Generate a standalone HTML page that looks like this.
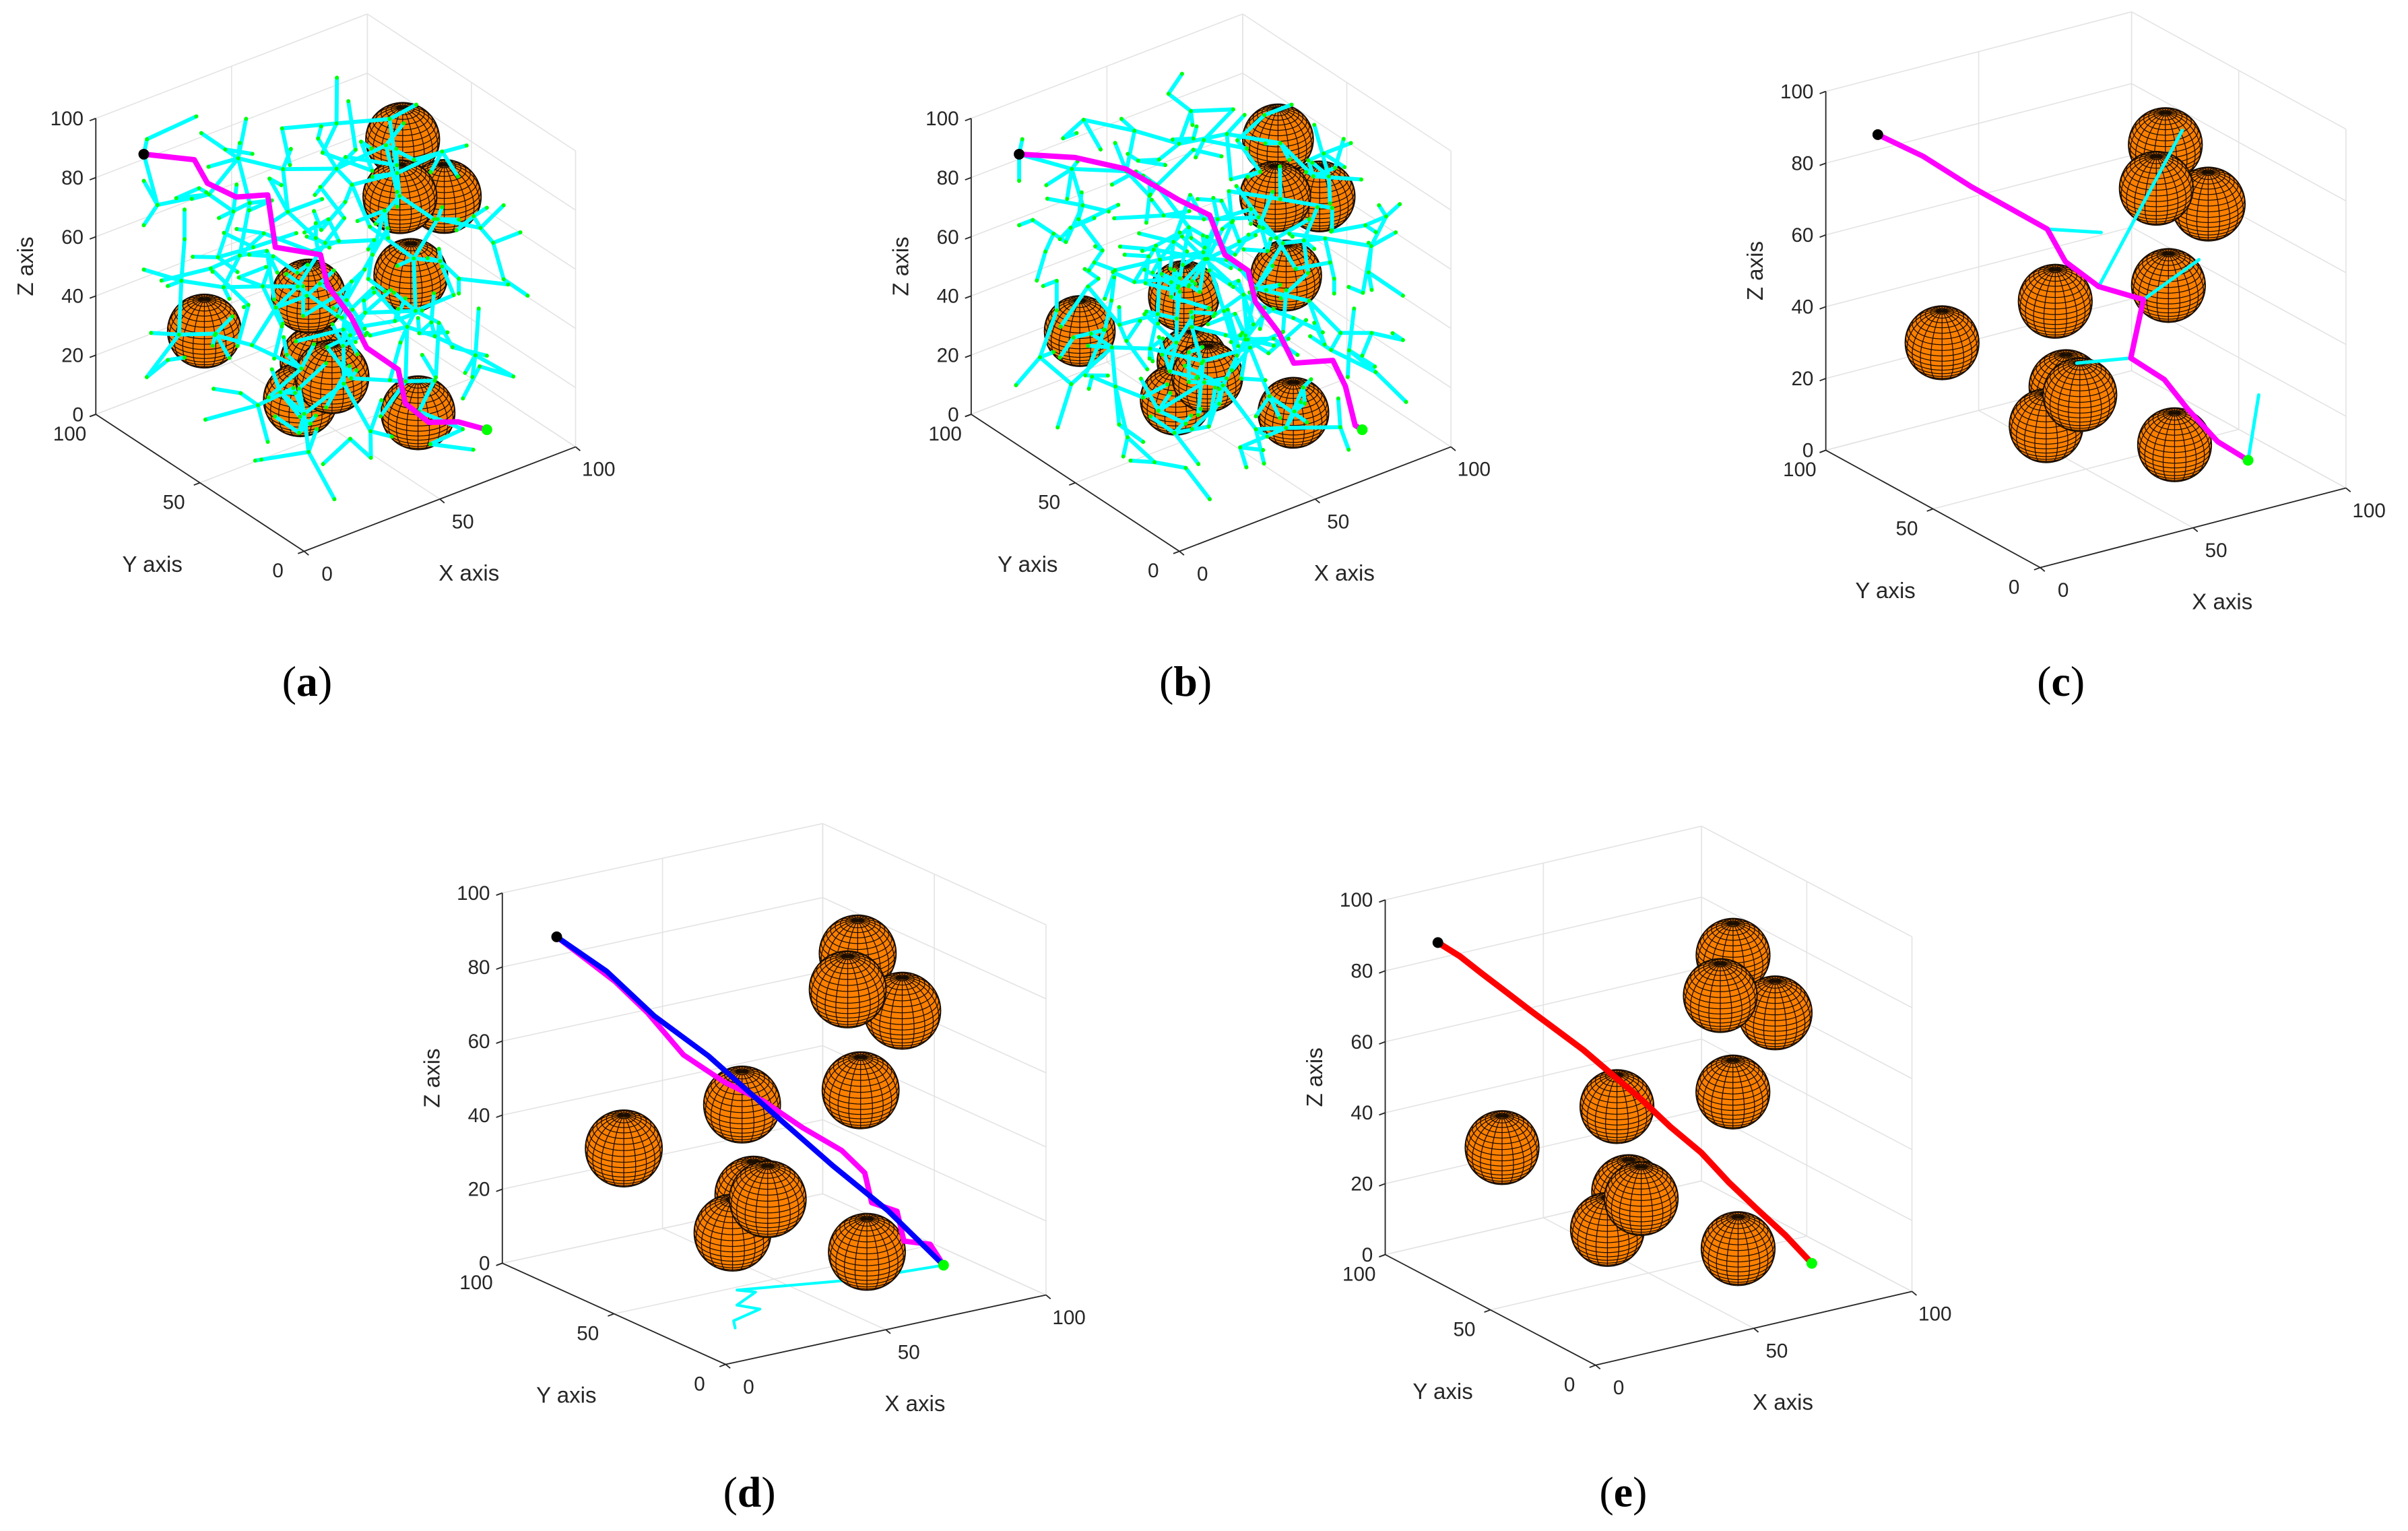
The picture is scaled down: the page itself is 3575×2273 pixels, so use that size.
<!DOCTYPE html>
<html><head><meta charset="utf-8"><style>
html,body{margin:0;padding:0;background:#fff;}
svg{display:block;}
text{font-family:"Liberation Sans",sans-serif;fill:#262626;}
</style></head>
<body>
<svg id="fig" xmlns="http://www.w3.org/2000/svg" width="3575" height="2273" viewBox="0 0 1568 997" preserveAspectRatio="none"></svg>
<script>
// ---------- data ----------
const sphereX=[17,37,41,40,90,66,90,70,47,65];
const sphereY=[70,50,40,50,70,40,50,40,55,30];
const sphereZ=[36,15,26,49,75,78,65,50,22,10];
const startPt=[10,90,89];
const goalPt=[75,10,10];
const pathA=[[10,90,89],[24,84,85],[25,79,79],[31,73,75],[38,67,76],[37,62,61],[49,56,57],[47,50,50],[51,44,41],[53,39,32],[60,33,25],[58,27,17],[62,21,12],[69,16,12],[75,10,10]];
const pathB=[[10,90,89],[26,84,85],[40,78,79],[55,72,66],[61,65,62],[62,59,51],[66,53,47],[64,47,40],[68,41,31],[69,35,23],[78,28,24],[78,22,18],[77,16,8],[75,10,10]];
const pathC=[[10,90,89],[20,83,83],[30,75,75],[50,68,61],[51,61,54],[57,54,48],[66,46,45],[57,39,33],[63,32,28],[65,24,22],[70,17,14],[75,10,10]];
const pathD=[[10,90,89],[24,84,76],[30,78,68],[37,72,57],[45,65,50],[53,59,45],[61,53,38],[69,47,32],[72,41,27],[70,35,21],[73,28,20],[71,22,14],[75,16,14],[75,10,10]];
const smoothD=[[10,90,89],[20,82,80],[30,75,68],[40,65,58],[50,52,45],[60,38,32],[68,25,22],[75,10,10]];
const smoothE=[[10,90,89],[15,87,85],[20,84,80],[25,80,75],[30,76,70],[35,71,65],[40,66,60],[45,60,54],[50,54,48],[55,47,41],[60,40,35],[64,33,28],[68,26,22],[72,18,16],[75,10,10]];
const cyanC=[[[57,54,48],[85,55,85]],[[66,46,45],[80,40,55]],[[75,10,10],[82,15,25]],[[57,39,33],[40,40,35]],[[50,68,61],[62,60,60]]];
const cyanD=[[75,10,10],[60,28,4],[37,48,0],[40,44,0],[30,38,0],[33,32,0],[22,28,0],[19,23,0]];
const treeNodes=[[12,80,60],[35,60,85],[70,90,95],[55,20,90],[88,40,80],[20,30,70],[45,75,40],[80,70,55],[10,55,30],[60,45,65],
[30,90,20],[90,15,35],[50,10,25],[25,50,95],[75,55,15],[40,35,50],[65,80,30],[15,15,55],[85,85,20],[5,70,85],
[50,60,75],[30,20,35],[95,60,70],[60,30,10],[20,85,45],[45,50,20],[70,10,60],[35,65,65],[80,25,90],[10,40,10],
[55,85,60],[25,10,85],[90,45,45],[40,90,80],[65,60,45],[15,65,60],[75,35,30],[50,25,80],[30,45,25],[85,70,85],
[5,25,45],[60,95,15],[45,15,55],[95,30,15],[20,60,80],[70,50,90],[35,80,10],[55,40,35],[10,90,65],[80,10,75],
[40,70,55],[65,20,45],[25,35,15],[90,90,50],[50,45,95],[15,80,25],[75,65,70],[35,5,15],[60,70,5],[20,45,50],
[85,50,25],[45,90,35],[30,25,60],[70,85,80],[5,50,70],[55,65,90],[95,80,35],[40,20,5],[65,40,80],[25,75,30],
[80,30,50],[10,10,20],[50,80,45],[35,40,75],[90,65,10],[15,95,90],[60,15,30],[45,55,60],[75,90,65],[30,70,95],
[85,20,65],[20,20,25],[55,30,55],[70,75,20],[40,60,30],[5,85,15],[95,45,85],[65,5,90],[25,90,55],[50,35,40]];
const zTicks=[0,20,40,60,80,100];
const xyTicks=[0,50,100];

// ---------- panel geometry ----------
const panels=[
 {id:'a',O:[198,359],ex:[176.8,-68],ey:[-135.6,-89.2],ez:[0,-192.7],r:24,lx:200,ly:453},
 {id:'b',O:[768,359],ex:[176.8,-68],ey:[-135.6,-89.2],ez:[0,-192.7],r:23,lx:772,ly:453},
 {id:'c',O:[1328.5,369.6],ex:[199.1,-51.8],ey:[-139.6,-76.4],ez:[0,-233.7],r:24,lx:1342,ly:453},
 {id:'d',O:[472.5,888.5],ex:[208.6,-45.2],ey:[-145.4,-65.9],ez:[0,-241.1],r:25,lx:488,ly:981},
 {id:'e',O:[1039,889],ex:[206,-48],ey:[-137,-72],ez:[0,-231],r:24,lx:1057,ly:981}
];
const NS='http://www.w3.org/2000/svg';
const svg=document.getElementById('fig');
function mk(tag,attrs,parent){const e=document.createElementNS(NS,tag);for(const k in attrs)e.setAttribute(k,attrs[k]);(parent||svg).appendChild(e);return e;}
function proj(p,x,y,z){return [p.O[0]+p.ex[0]*x/100+p.ey[0]*y/100+p.ez[0]*z/100, p.O[1]+p.ex[1]*x/100+p.ey[1]*y/100+p.ez[1]*z/100];}
function pts(p,arr){return arr.map(q=>proj(p,q[0],q[1],q[2]).map(v=>v.toFixed(1)).join(',')).join(' ');}

const EL=30*Math.PI/180;
function sphereGridPath(r){
  let d='';
  function addLine(fn,n){let pen=false;for(let i=0;i<=n;i++){const t=i/n;const [px,py,pz]=fn(t);
    const vis=px*Math.cos(EL)+pz*Math.sin(EL)>=-0.02;
    if(vis){const sx=py*r, sy=-(pz*Math.cos(EL)-px*Math.sin(EL))*r;d+=(pen?'L':'M')+sx.toFixed(2)+' '+sy.toFixed(2);pen=true;}else pen=false;}}
  for(let k=-9;k<=9;k++){const f=k*9*Math.PI/180;addLine(t=>{const l=t*2*Math.PI;return [Math.cos(f)*Math.cos(l),Math.cos(f)*Math.sin(l),Math.sin(f)];},72);}
  for(let k=0;k<20;k++){const l=k*18*Math.PI/180;addLine(t=>{const f=-Math.PI/2+t*Math.PI;return [Math.cos(f)*Math.cos(l),Math.cos(f)*Math.sin(l),Math.sin(f)];},48);}
  return d;
}
function drawSpheres(p,g){
  const idx=sphereX.map((_,i)=>i).sort((a,b)=>(sphereX[b]*0.61+sphereY[b]*0.79-sphereZ[b]*0.5)-(sphereX[a]*0.61+sphereY[a]*0.79-sphereZ[a]*0.5));
  const gp=sphereGridPath(p.r);
  idx.forEach(i=>{
    const c=proj(p,sphereX[i],sphereY[i],sphereZ[i]);
    const s=mk('g',{transform:`translate(${c[0].toFixed(1)},${c[1].toFixed(1)})`},g);
    
    
    mk('circle',{cx:0,cy:0,r:p.r,fill:'#ff8000',stroke:'#111',"stroke-width":0.8},s);
    mk('path',{d:gp,fill:'none',stroke:'#1a0d00',"stroke-width":0.55},s);
  });
}
function drawAxes(p,g){
  const grid=mk('g',{stroke:'#e3e3e3',"stroke-width":0.7,fill:'none'},g);
  
  
  const L=(a,b)=>{const A=proj(p,...a),B=proj(p,...b);mk('line',{x1:A[0],y1:A[1],x2:B[0],y2:B[1]},grid);};
  xyTicks.forEach(t=>{L([t,0,0],[t,100,0]);L([0,t,0],[100,t,0]);L([t,100,0],[t,100,100]);L([100,t,0],[100,t,100]);});
  zTicks.forEach(t=>{L([0,100,t],[100,100,t]);L([100,100,t],[100,0,t]);});
  const ax=mk('g',{stroke:'#262626',"stroke-width":0.8},g);
  
  
  const A=(a,b)=>{const P=proj(p,...a),Q=proj(p,...b);mk('line',{x1:P[0],y1:P[1],x2:Q[0],y2:Q[1]},ax);};
  A([0,100,0],[0,100,100]);A([0,0,0],[0,100,0]);A([0,0,0],[100,0,0]);
  zTicks.forEach(t=>{const P=proj(p,0,100,t);mk('line',{x1:P[0]-4,y1:P[1]+1.5,x2:P[0],y2:P[1]},ax);
    const tx=mk('text',{x:P[0]-8,y:P[1]+4.5,"font-size":13,"text-anchor":"end"},g);tx.textContent=t;
    
    });
  xyTicks.forEach(t=>{const P=proj(p,0,t,0);mk('line',{x1:P[0],y1:P[1],x2:P[0]-4,y2:P[1]+1.5},ax);
    const ty=mk('text',{x:P[0]-17,y:P[1]+17,"font-size":13,"text-anchor":"middle"},g);ty.textContent=t;
    
    
    const Q=proj(p,t,0,0);mk('line',{x1:Q[0],y1:Q[1],x2:Q[0]+3,y2:Q[1]+2.5},ax);
    const tx=mk('text',{x:Q[0]+15,y:Q[1]+19,"font-size":13,"text-anchor":"middle"},g);tx.textContent=t;
    
    });
  const zm=proj(p,0,100,50);
  const zt=mk('text',{x:0,y:0,"font-size":14.5,"text-anchor":"middle",transform:`translate(${zm[0]-41},${zm[1]}) rotate(-90)`},g);zt.textContent='Z axis';
  
  
  const ym=proj(p,0,50,0);
  const yt=mk('text',{x:ym[0]-31,y:ym[1]+58,"font-size":14.5,"text-anchor":"middle"},g);yt.textContent='Y axis';
  
  
  const xm=proj(p,50,0,0);
  const xt=mk('text',{x:xm[0]+19,y:xm[1]+53,"font-size":14.5,"text-anchor":"middle"},g);xt.textContent='X axis';
  
  
}
function drawTree(p,g,sets){
  let samples=[];
  sets.forEach(f=>{treeNodes.forEach(n=>samples.push(f(n)));});
  const STEP=16;
  const tree=[startPt.slice()];
  const tg=mk('g',{},g);
  
  
  const dots=[];
  samples.forEach(n=>{
    let best=0,bd=1e9;
    tree.forEach((q,j)=>{const d=(n[0]-q[0])**2+(n[1]-q[1])**2+(n[2]-q[2])**2;if(d<bd){bd=d;best=j;}});
    const q=tree[best];const d=Math.sqrt(bd);if(d<1)return;
    const s=Math.min(1,STEP/d);
    const np=[q[0]+(n[0]-q[0])*s,q[1]+(n[1]-q[1])*s,q[2]+(n[2]-q[2])*s];
    tree.push(np);
    const A=proj(p,...q),B=proj(p,...np);
    const ln=mk('line',{x1:A[0],y1:A[1],x2:B[0],y2:B[1],stroke:'#00ffff',"stroke-width":2.6,"stroke-linecap":"round"},tg);
    
    
    dots.push(B);
  });
  dots.forEach(B=>mk('circle',{cx:B[0],cy:B[1],r:1.3,fill:'#00ff00'},tg));
}
function drawPath(p,g,arr,color,w,name){
  const pl=mk('polyline',{points:pts(p,arr),fill:'none',stroke:color,"stroke-width":w,"stroke-linejoin":"round","stroke-linecap":"round"},g);
  
  
}
function drawEnds(p,g){
  const s=proj(p,...startPt),e=proj(p,...goalPt);
  const a=mk('circle',{cx:s[0],cy:s[1],r:3.5,fill:'#000'},g);
  
  
  const b=mk('circle',{cx:e[0],cy:e[1],r:3.5,fill:'#00ff00'},g);
  
  
}
const id3=n=>n, mx=n=>[100-n[0],n[1],n[2]], myz=n=>[n[0],100-n[1],100-n[2]], mxy=n=>[100-n[0],100-n[1],n[2]], sw=n=>[n[1],n[0],100-n[2]];

panels.forEach(p=>{
  const g=mk('g',{});
  
  
  drawAxes(p,g);
  if(p.id==='d'){drawPath(p,g,cyanD,'#00ffff',1.8,'cyan-branch');}
  drawSpheres(p,g);
  if(p.id==='a'){drawTree(p,g,[id3,mx,myz]);drawPath(p,g,pathA,'#ff00ff',3.5,'found-path');}
  if(p.id==='b'){drawTree(p,g,[mxy,sw,id3,myz]);drawPath(p,g,pathB,'#ff00ff',3.5,'found-path');}
  if(p.id==='c'){cyanC.forEach(s=>drawPath(p,g,s,'#00ffff',2.2,'cyan-branch'));drawPath(p,g,pathC,'#ff00ff',3.5,'found-path');}
  if(p.id==='d'){drawPath(p,g,pathD,'#ff00ff',3.5,'found-path');drawPath(p,g,smoothD,'#0000ff',3.5,'smoothed-path');}
  if(p.id==='e'){drawPath(p,g,smoothE,'#ff0000',4,'optimized-path');}
  drawEnds(p,g);
  const lb=mk('text',{x:p.lx,y:p.ly,"font-size":28,"text-anchor":"middle",style:'font-family:"Liberation Serif",serif;fill:#000'},svg);
  lb.innerHTML='(<tspan font-weight="bold">'+p.id+'</tspan>)';
  
  
});
</script>
</body></html>
